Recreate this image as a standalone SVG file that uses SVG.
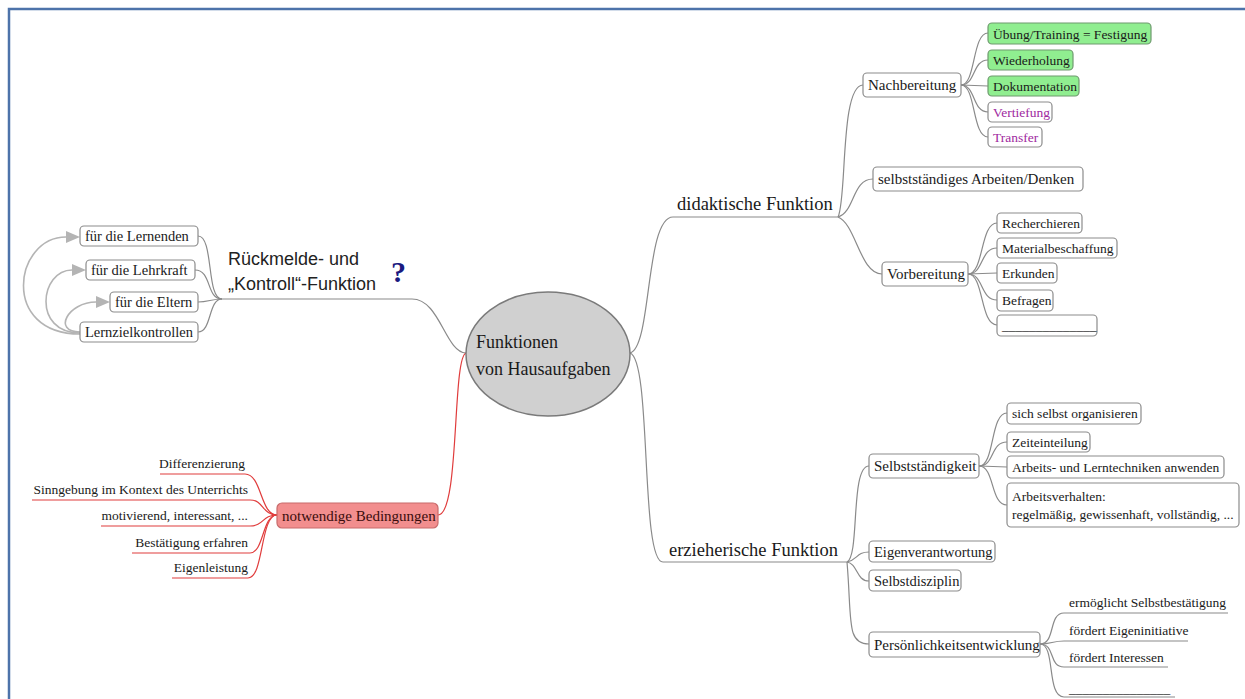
<svg xmlns="http://www.w3.org/2000/svg" width="1245" height="699" viewBox="0 0 1245 699">
<style>
.bg{fill:#fff}
.frame{fill:none;stroke:#4d73aa;stroke-width:2.5}
.box{fill:#fff;stroke:#8c8c8c;stroke-width:1.2}
.green{fill:#90ee90;stroke:#6f9a6f;stroke-width:1.2}
.redbox{fill:#f28e8e;stroke:#c86b6b;stroke-width:1.2}
.ell{fill:#d0d0d0;stroke:#7a7a7a;stroke-width:1.5}
.t{font-family:"Liberation Serif","Times New Roman",serif;font-size:13.5px;fill:#1a1a1a}
.m{font-family:"Liberation Serif","Times New Roman",serif;font-size:15px;fill:#1a1a1a}
.l{font-family:"Liberation Serif","Times New Roman",serif;font-size:18.5px;fill:#1a1a1a}
.s{font-family:"Liberation Sans",Arial,sans-serif;font-size:18px;fill:#222}
.purple{fill:#a02aa0}
.conn{fill:none;stroke:#8a8a8a;stroke-width:1.2}
.red{fill:none;stroke:#e03c3c;stroke-width:1.2}
.arr{fill:none;stroke:#b4b4b4;stroke-width:1.6}
</style>
<defs>
<marker id="ah" markerUnits="userSpaceOnUse" markerWidth="15" markerHeight="13" refX="0" refY="6" orient="auto">
<path d="M0,0 L14,6 L0,12 z" fill="#b4b4b4"/>
</marker>
</defs>
<rect class="bg" x="0" y="0" width="1245" height="699"/>
<path class="frame" d="M9 700 L9 9 L1246 9"/>

<g id="connectors">
<!-- center to main branches -->
<path class="conn" d="M630 353 C 652 348, 645 217, 673 217 L 838 217"/>
<path class="conn" d="M630 353 C 652 360, 640 562, 663 562 L 847 562"/>
<path class="conn" d="M466 353 C 445 352, 440 299, 412 299 L 222 299"/>
<path class="red" d="M466 353 C 452 358, 460 515, 438 515"/>
<!-- didaktische -->
<path class="conn" d="M838 217 C 847 200, 840 85, 863 85"/>
<path class="conn" d="M838 217 C 855 212, 852 179, 873 179"/>
<path class="conn" d="M838 217 C 856 224, 860 274, 882 274"/>
<!-- Nachbereitung -->
<path class="conn" d="M961 85 C 976 85, 972 33, 988 33"/>
<path class="conn" d="M961 85 C 976 85, 972 60, 988 60"/>
<path class="conn" d="M961 85 L 988 86"/>
<path class="conn" d="M961 85 C 976 85, 972 112, 988 112"/>
<path class="conn" d="M961 85 C 976 85, 972 137, 988 137"/>
<!-- Vorbereitung -->
<path class="conn" d="M968 274 C 984 274, 980 223, 997 223"/>
<path class="conn" d="M968 274 C 984 274, 980 248, 997 248"/>
<path class="conn" d="M968 274 L 997 273"/>
<path class="conn" d="M968 274 C 984 274, 980 300, 997 300"/>
<path class="conn" d="M968 274 C 984 274, 980 325, 997 325"/>
<!-- erzieherische -->
<path class="conn" d="M847 562 C 860 556, 850 466, 869 466"/>
<path class="conn" d="M847 562 C 858 560, 856 552, 869 552"/>
<path class="conn" d="M847 562 C 858 564, 856 581, 869 581"/>
<path class="conn" d="M847 562 C 852 620, 846 644, 869 644"/>
<!-- Selbststaendigkeit -->
<path class="conn" d="M979 466 C 995 466, 990 413, 1007 413"/>
<path class="conn" d="M979 466 C 995 466, 990 442, 1007 442"/>
<path class="conn" d="M979 466 L 1007 467"/>
<path class="conn" d="M979 466 C 995 466, 990 505, 1007 505"/>
<!-- Persoenlichkeitsentwicklung -->
<path class="conn" d="M1040 644 C 1056 644, 1048 613, 1064 613 L 1228 613"/>
<path class="conn" d="M1040 644 C 1052 644, 1052 641, 1064 641 L 1188 641"/>
<path class="conn" d="M1040 644 C 1056 644, 1048 667, 1064 667 L 1168 667"/>
<path class="conn" d="M1040 644 C 1056 644, 1046 697, 1064 697 L 1175 697"/>
<!-- Rueckmelde children -->
<path class="conn" d="M198 236 C 214 236, 206 299, 222 299"/>
<path class="conn" d="M195 270 C 212 270, 206 299, 222 299"/>
<path class="conn" d="M198 302 C 208 302, 212 299, 222 299"/>
<path class="conn" d="M198 332 C 212 332, 208 299, 222 299"/>
<!-- arrows from Lernzielkontrollen -->
<path class="arr" marker-end="url(#ah)" d="M80 334 C 0 334, 14 237, 66 237"/>
<path class="arr" marker-end="url(#ah)" d="M80 333 C 32 333, 40 270, 72 270"/>
<path class="arr" marker-end="url(#ah)" d="M80 332 C 52 332, 68 302, 96 302"/>
<!-- notwendige Bedingungen children -->
<path class="red" d="M160 474 L 245 474 C 262 474, 260 515, 277 515"/>
<path class="red" d="M32 500 L 250 500 C 264 500, 262 515, 277 515"/>
<path class="red" d="M101 526 L 250 526 C 264 526, 262 515, 277 515"/>
<path class="red" d="M132 553 L 250 553 C 264 553, 262 515, 277 515"/>
<path class="red" d="M172 578 L 248 578 C 264 578, 260 515, 277 515"/>
</g>

<g id="center">
<ellipse class="ell" cx="548" cy="354" rx="82" ry="62"/>
<text class="t" style="font-size:18px" x="476" y="348">Funktionen</text>
<text class="t" style="font-size:18px" x="476" y="375">von Hausaufgaben</text>
</g>

<g id="didaktisch"><text class="l" x="677" y="210">didaktische Funktion</text></g>
<g id="erzieherisch"><text class="l" x="669" y="556">erzieherische Funktion</text></g>

<g id="rueckmelde">
<text class="s" x="228" y="265">Rückmelde- und</text>
<text class="s" x="228" y="290">„Kontroll“-Funktion</text>
<text x="391" y="282" style="font-family:'Liberation Serif',serif;font-size:30px;font-weight:bold;fill:#1a1a80">?</text>
</g>

<g id="nachbereitung"><rect class="box" x="863" y="73" width="98" height="24" rx="4"/><text class="m" x="868" y="90">Nachbereitung</text></g>
<g id="uebung"><rect class="green" x="988" y="23" width="163" height="21" rx="4"/><text class="t" x="993" y="38.5">Übung/Training = Festigung</text></g>
<g id="wiederholung"><rect class="green" x="988" y="50" width="85" height="20" rx="4"/><text class="t" x="993" y="64.5">Wiederholung</text></g>
<g id="dokumentation"><rect class="green" x="988" y="76" width="91" height="20" rx="4"/><text class="t" x="993" y="90.5">Dokumentation</text></g>
<g id="vertiefung"><rect class="box" x="988" y="102" width="64" height="20" rx="4"/><text class="t purple" x="993" y="116.5">Vertiefung</text></g>
<g id="transfer"><rect class="box" x="988" y="127" width="54" height="20" rx="4"/><text class="t purple" x="993" y="141.5">Transfer</text></g>

<g id="selbststaendiges"><rect class="box" x="873" y="167" width="210" height="24" rx="4"/><text class="m" x="878" y="184">selbstständiges Arbeiten/Denken</text></g>

<g id="vorbereitung"><rect class="box" x="882" y="262" width="86" height="24" rx="4"/><text class="m" x="887" y="279">Vorbereitung</text></g>
<g id="recherchieren"><rect class="box" x="997" y="213" width="85" height="20" rx="4"/><text class="t" x="1002" y="228">Recherchieren</text></g>
<g id="material"><rect class="box" x="997" y="238" width="120" height="20" rx="4"/><text class="t" x="1002" y="253">Materialbeschaffung</text></g>
<g id="erkunden"><rect class="box" x="997" y="263" width="60" height="20" rx="4"/><text class="t" x="1002" y="278">Erkunden</text></g>
<g id="befragen"><rect class="box" x="997" y="290" width="56" height="21" rx="4"/><text class="t" x="1002" y="305">Befragen</text></g>
<g id="blank1"><rect class="box" x="997" y="315" width="100" height="21" rx="4"/><text class="t" x="1002" y="330">______________</text></g>

<g id="selbststaendigkeit"><rect class="box" x="869" y="454" width="110" height="24" rx="4"/><text class="m" x="874" y="471">Selbstständigkeit</text></g>
<g id="organisieren"><rect class="box" x="1007" y="403" width="134" height="21" rx="4"/><text class="t" x="1012" y="418">sich selbst organisieren</text></g>
<g id="zeiteinteilung"><rect class="box" x="1007" y="432" width="83" height="20" rx="4"/><text class="t" x="1012" y="447">Zeiteinteilung</text></g>
<g id="techniken"><rect class="box" x="1007" y="456" width="217" height="22" rx="4"/><text class="t" x="1012" y="472">Arbeits- und Lerntechniken anwenden</text></g>
<g id="arbeitsverhalten"><rect class="box" x="1007" y="483" width="232" height="44" rx="4"/><text class="t" x="1012" y="501">Arbeitsverhalten:</text><text class="t" x="1012" y="519">regelmäßig, gewissenhaft, vollständig, ...</text></g>
<g id="eigenverantwortung"><rect class="box" x="869" y="541" width="126" height="21" rx="4"/><text class="m" style="font-size:14.5px" x="874" y="557">Eigenverantwortung</text></g>
<g id="selbstdisziplin"><rect class="box" x="869" y="570" width="92" height="21" rx="4"/><text class="m" style="font-size:14.5px" x="874" y="586">Selbstdisziplin</text></g>
<g id="persoenlichkeit"><rect class="box" x="869" y="632" width="171" height="25" rx="4"/><text class="m" x="874" y="650">Persönlichkeitsentwicklung</text></g>
<g id="selbstbestaetigung"><text class="t" x="1069" y="607">ermöglicht Selbstbestätigung</text></g>
<g id="eigeninitiative"><text class="t" x="1069" y="635">fördert Eigeninitiative</text></g>
<g id="interessen"><text class="t" x="1069" y="662">fördert Interessen</text></g>
<g id="blank2"><text class="t" x="1069" y="693">_______________</text></g>

<g id="lernende"><rect class="box" x="80" y="226" width="118" height="20" rx="4"/><text class="t" style="font-size:14.5px" x="85" y="241">für die Lernenden</text></g>
<g id="lehrkraft"><rect class="box" x="86" y="260" width="109" height="20" rx="4"/><text class="t" style="font-size:14.5px" x="91" y="275">für die Lehrkraft</text></g>
<g id="eltern"><rect class="box" x="110" y="292" width="88" height="20" rx="4"/><text class="t" style="font-size:14.5px" x="115" y="307">für die Eltern</text></g>
<g id="lernziel"><rect class="box" x="80" y="322" width="118" height="20" rx="4"/><text class="t" style="font-size:14.5px" x="85" y="337">Lernzielkontrollen</text></g>

<g id="notwendig"><rect class="redbox" x="277" y="503" width="161" height="25" rx="5"/><text class="m" style="fill:#3a0c0c" x="282" y="520.5">notwendige Bedingungen</text></g>
<g id="differenzierung"><text class="t" text-anchor="end" x="245" y="468">Differenzierung</text></g>
<g id="sinngebung"><text class="t" text-anchor="end" x="248" y="494">Sinngebung im Kontext des Unterrichts</text></g>
<g id="motivierend"><text class="t" text-anchor="end" x="248" y="520">motivierend, interessant, ...</text></g>
<g id="bestaetigung"><text class="t" text-anchor="end" x="248" y="547">Bestätigung erfahren</text></g>
<g id="eigenleistung"><text class="t" text-anchor="end" x="248" y="572">Eigenleistung</text></g>
</svg>
